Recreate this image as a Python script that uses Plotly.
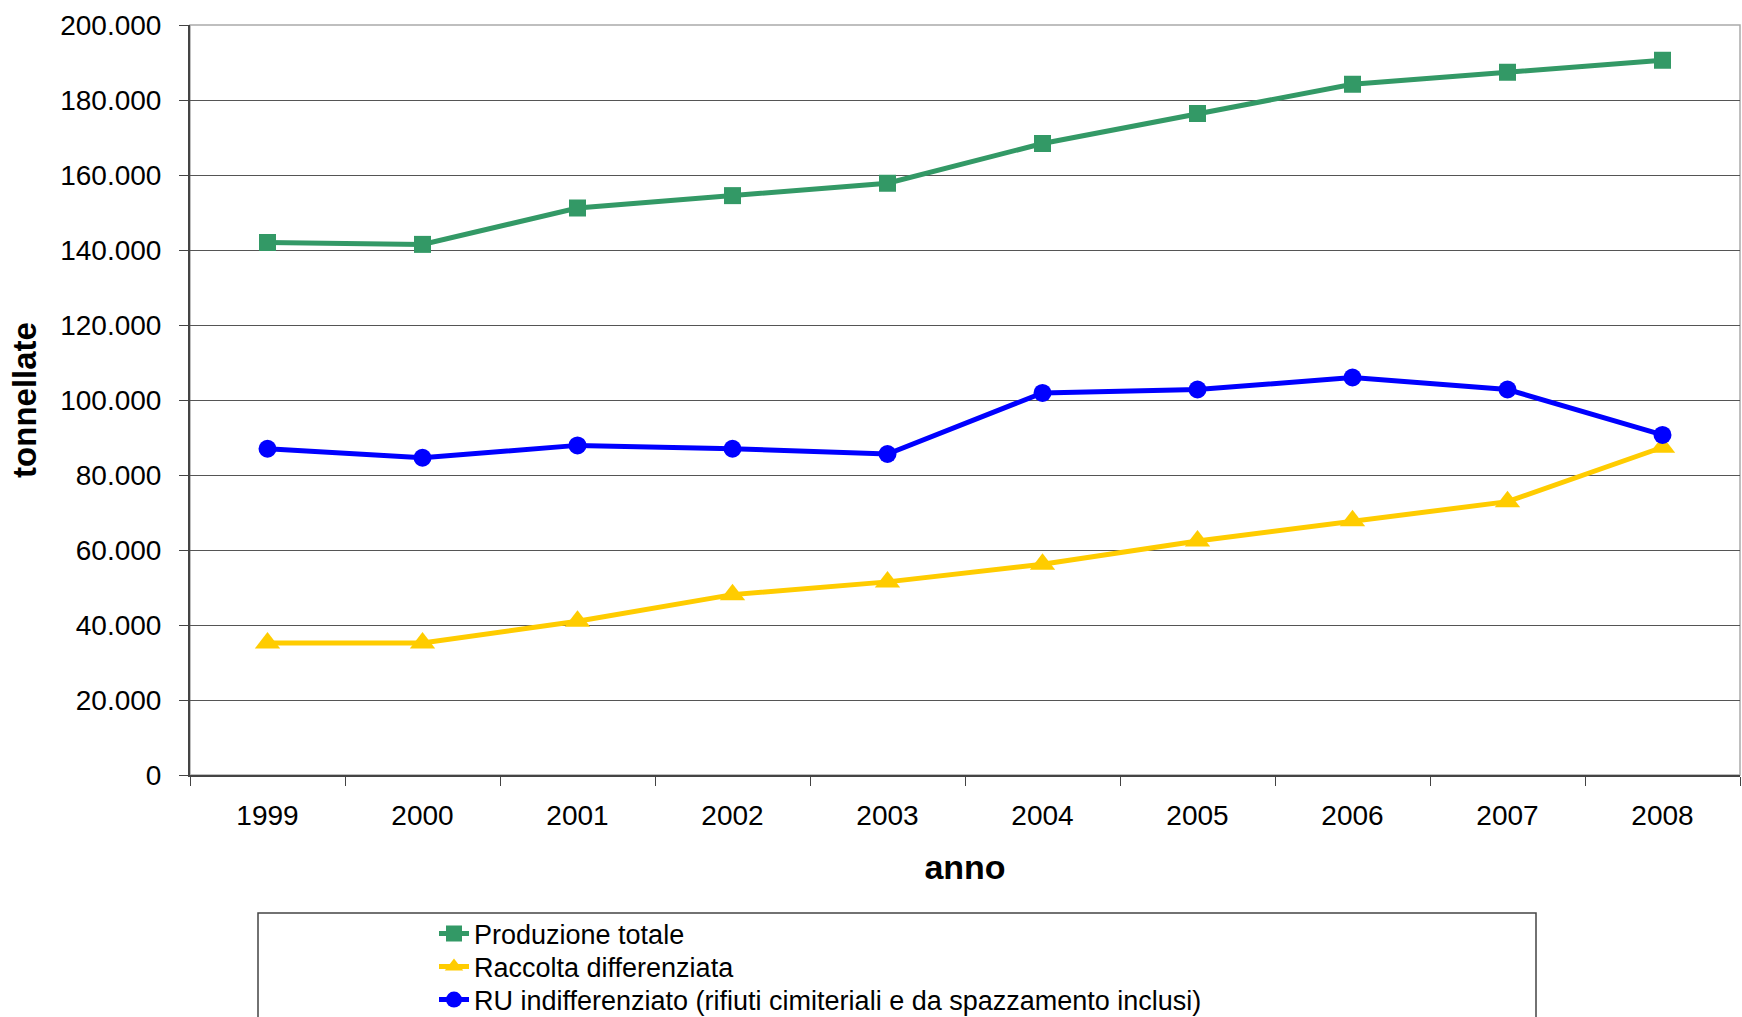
import plotly.graph_objects as go

anni = ["1999", "2000", "2001", "2002", "2003", "2004", "2005", "2006", "2007", "2008"]
produzione_totale = [142000, 141500, 151200, 154500, 157800, 168400, 176400, 184200, 187400, 190600]
raccolta_differenziata = [35200, 35200, 41000, 48100, 51500, 56200, 62400, 67800, 72900, 87400]
ru_indifferenziato = [87000, 84600, 87900, 87000, 85600, 101900, 102800, 106000, 102800, 90700]
y_ticks = [0, 20000, 40000, 60000, 80000, 100000, 120000, 140000, 160000, 180000, 200000]

FONT = "Liberation Sans, Arial, sans-serif"

W, H = 1742, 1017
L, R, T, B = 190, 2, 25, 242
pw, ph = W - L - R, H - T - B


def px_x(p):
    return (p - L) / pw


def px_y(p):
    return (H - B - p) / ph


fig = go.Figure()
fig.add_trace(go.Scatter(
    x=anni, y=produzione_totale, name="Produzione totale", mode="lines+markers",
    line=dict(color="#339966", width=5),
    marker=dict(symbol="square", size=17, color="#339966"),
    legend="legend"))
fig.add_trace(go.Scatter(
    x=anni, y=raccolta_differenziata, name="Raccolta differenziata", mode="lines+markers",
    line=dict(color="#FFCC00", width=5),
    marker=dict(symbol="triangle-up", size=22, color="#FFCC00"),
    legend="legend2"))
fig.add_trace(go.Scatter(
    x=anni, y=ru_indifferenziato,
    name="RU indifferenziato (rifiuti cimiteriali e da spazzamento inclusi)", mode="lines+markers",
    line=dict(color="#0000FF", width=5),
    marker=dict(symbol="circle", size=18, color="#0000FF"),
    legend="legend3"))

leg_font = dict(family=FONT, size=27, color="black")
leg_common = dict(xanchor="left", yanchor="middle", bgcolor="rgba(0,0,0,0)",
                  borderwidth=0, font=leg_font, itemwidth=30)

fig.update_layout(
    width=W, height=H,
    margin=dict(l=L, r=R, t=T, b=B, autoexpand=False),
    paper_bgcolor="white", plot_bgcolor="white",
    separators=",.",
    font=dict(family=FONT, color="black", size=28),
    showlegend=True,
    legend=dict(x=px_x(434), y=px_y(934), **leg_common),
    legend2=dict(x=px_x(434), y=px_y(967), **leg_common),
    legend3=dict(x=px_x(434), y=px_y(1000), **leg_common),
    xaxis=dict(
        type="category", range=[-0.5, 9.5],
        showgrid=False, zeroline=False,
        showline=True, linecolor="#444444", linewidth=2,
        ticks="outside", tickson="boundaries", ticklen=9, tickcolor="#444444", tickwidth=1,
        tickfont=dict(family=FONT, size=28, color="black"),
        ticklabelstandoff=14,
        title=dict(text="<b>anno</b>", font=dict(family=FONT, size=34, color="black"), standoff=26),
        fixedrange=True,
    ),
    yaxis=dict(
        range=[0, 200000], tickvals=y_ticks, tickformat=",d",
        showgrid=True, gridcolor="#555555", gridwidth=1,
        zeroline=False,
        showline=True, linecolor="#444444", linewidth=2,
        ticks="outside", ticklen=9, tickcolor="#444444", tickwidth=1,
        tickfont=dict(family=FONT, size=28, color="black"),
        ticklabelstandoff=12,
        title=dict(text="<b>tonnellate</b>", font=dict(family=FONT, size=33, color="black"), standoff=14),
        fixedrange=True,
    ),
    shapes=[
        dict(type="rect", xref="paper", yref="paper", x0=0, x1=1, y0=0, y1=1,
             line=dict(color="#AAAAAA", width=1.5), layer="below"),
        dict(type="rect", xref="paper", yref="paper",
             x0=px_x(258), x1=px_x(1536), y0=px_y(1040), y1=px_y(913),
             line=dict(color="#444444", width=1.5), fillcolor="rgba(0,0,0,0)", layer="below"),
    ],
)

fig.write_html(
    "out.html",
    config={"displayModeBar": False},
    post_script="document.body.style.margin='0px';document.body.style.overflow='hidden';",
)
